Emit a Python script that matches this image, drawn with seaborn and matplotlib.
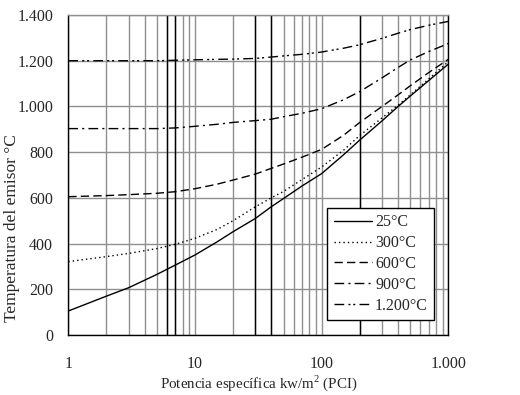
import matplotlib
matplotlib.use("Agg")
import matplotlib.pyplot as plt
import matplotlib.ticker as mticker
import seaborn as sns
import pandas as pd

x_power = [1, 2, 3, 5, 7, 10, 15, 20, 30, 40, 50, 70, 100, 150, 200, 300, 400, 500, 700, 1000]
t_25 = [105, 170, 207, 265, 306, 350, 408, 452, 510, 561, 597, 652, 706, 790, 853, 937, 999, 1045, 1113, 1185]
t_300 = [321, 343, 357, 378, 397, 423, 462, 500, 561, 600, 628, 680, 735, 810, 873, 950, 1005, 1050, 1120, 1196]
t_600 = [605, 610, 614, 620, 627, 640, 660, 678, 704, 729, 748, 778, 812, 875, 930, 1000, 1050, 1090, 1148, 1206]
t_900 = [903, 903, 903, 903, 906, 913, 922, 930, 938, 944, 955, 970, 990, 1030, 1065, 1125, 1170, 1203, 1240, 1275]
t_1200 = [1200, 1200, 1200, 1200, 1202, 1204, 1206, 1207, 1210, 1216, 1221, 1228, 1238, 1255, 1270, 1298, 1320, 1336, 1355, 1372]
series_labels = ["25°C", "300°C", "600°C", "900°C", "1.200°C"]
x_tick_vals = [1, 10, 100, 1000]
x_tick_labels = ["1", "10", "100", "1.000"]
y_tick_vals = [0, 200, 400, 600, 800, 1000, 1200, 1400]
y_tick_labels = ["0", "200", "400", "600", "800", "1.000", "1.200", "1.400"]
dark_grid_x = [6, 7, 30, 40, 200]

rows = []
for lab, ys in zip(series_labels, [t_25, t_300, t_600, t_900, t_1200]):
    for xv, yv in zip(x_power, ys):
        rows.append({"x": xv, "y": yv, "serie": lab})
df = pd.DataFrame(rows)

sns.set_style("white")
plt.rcParams["font.family"] = ["Liberation Serif", "DejaVu Serif"]
plt.rcParams["mathtext.fontset"] = "custom"
plt.rcParams["mathtext.rm"] = "Liberation Serif"

fig = plt.figure(figsize=(5.2, 3.95), dpi=100)
ax = fig.add_axes([68.3 / 520, 60 / 395, (448.3 - 68.3) / 520, 320 / 395])

dashes = {
    "25°C": "",
    "300°C": (1, 2.2),
    "600°C": (6, 3),
    "900°C": (7, 3, 1.5, 3),
    "1.200°C": (7, 3, 1.5, 2, 1.5, 3),
}
palette = {lab: "black" for lab in series_labels}

sns.lineplot(data=df, x="x", y="y", hue="serie", style="serie",
             palette=palette, dashes=dashes, linewidth=1.0, ax=ax,
             legend=True, zorder=3)

ax.set_xscale("log")
ax.set_xlim(1, 1000)
ax.set_ylim(0, 1400)

ax.grid(which="both", axis="x", color="#8f8f8f", linewidth=1.0, zorder=0)
ax.grid(which="major", axis="y", color="#8f8f8f", linewidth=1.0, zorder=0)
for xv in dark_grid_x:
    ax.axvline(xv, color="black", linewidth=1.0, zorder=1)

ax.set_xticks(x_tick_vals)
ax.set_xticklabels(x_tick_labels)
ax.xaxis.set_minor_locator(mticker.LogLocator(base=10, subs=range(2, 10)))
ax.xaxis.set_minor_formatter(mticker.NullFormatter())
ax.set_yticks(y_tick_vals)
ax.set_yticklabels(y_tick_labels)

ax.tick_params(axis="x", which="both", direction="inout", length=6, width=1,
               color="black", labelsize=11.5, pad=12)
ax.tick_params(axis="y", which="major", direction="inout", length=6, width=1,
               color="black", labelsize=11.5, pad=8)
ax.tick_params(axis="x", which="minor", length=6)

for side in ["left", "bottom", "right"]:
    ax.spines[side].set_color("black")
    ax.spines[side].set_linewidth(1.0)
ax.spines["top"].set_color("#8f8f8f")
ax.spines["top"].set_linewidth(1.0)

ax.set_xlabel("Potencia específica kw/m$^2$ (PCI)", fontsize=10.8, labelpad=1)
ax.set_ylabel("Temperatura del emisor °C", fontsize=12.5)
ax.yaxis.set_label_coords(-0.128, 0.334)

handles, labels = ax.get_legend_handles_labels()
leg = ax.legend(handles, labels, loc="lower right",
                bbox_to_anchor=(366 / 380, 15 / 320),
                frameon=True, fancybox=False, edgecolor="black",
                framealpha=1, fontsize=11.5, handlelength=2.4,
                handletextpad=0.2, labelspacing=0.3, borderpad=0.4,
                borderaxespad=0)
leg.get_frame().set_linewidth(1.0)

fig.savefig("out.png", dpi=100)
